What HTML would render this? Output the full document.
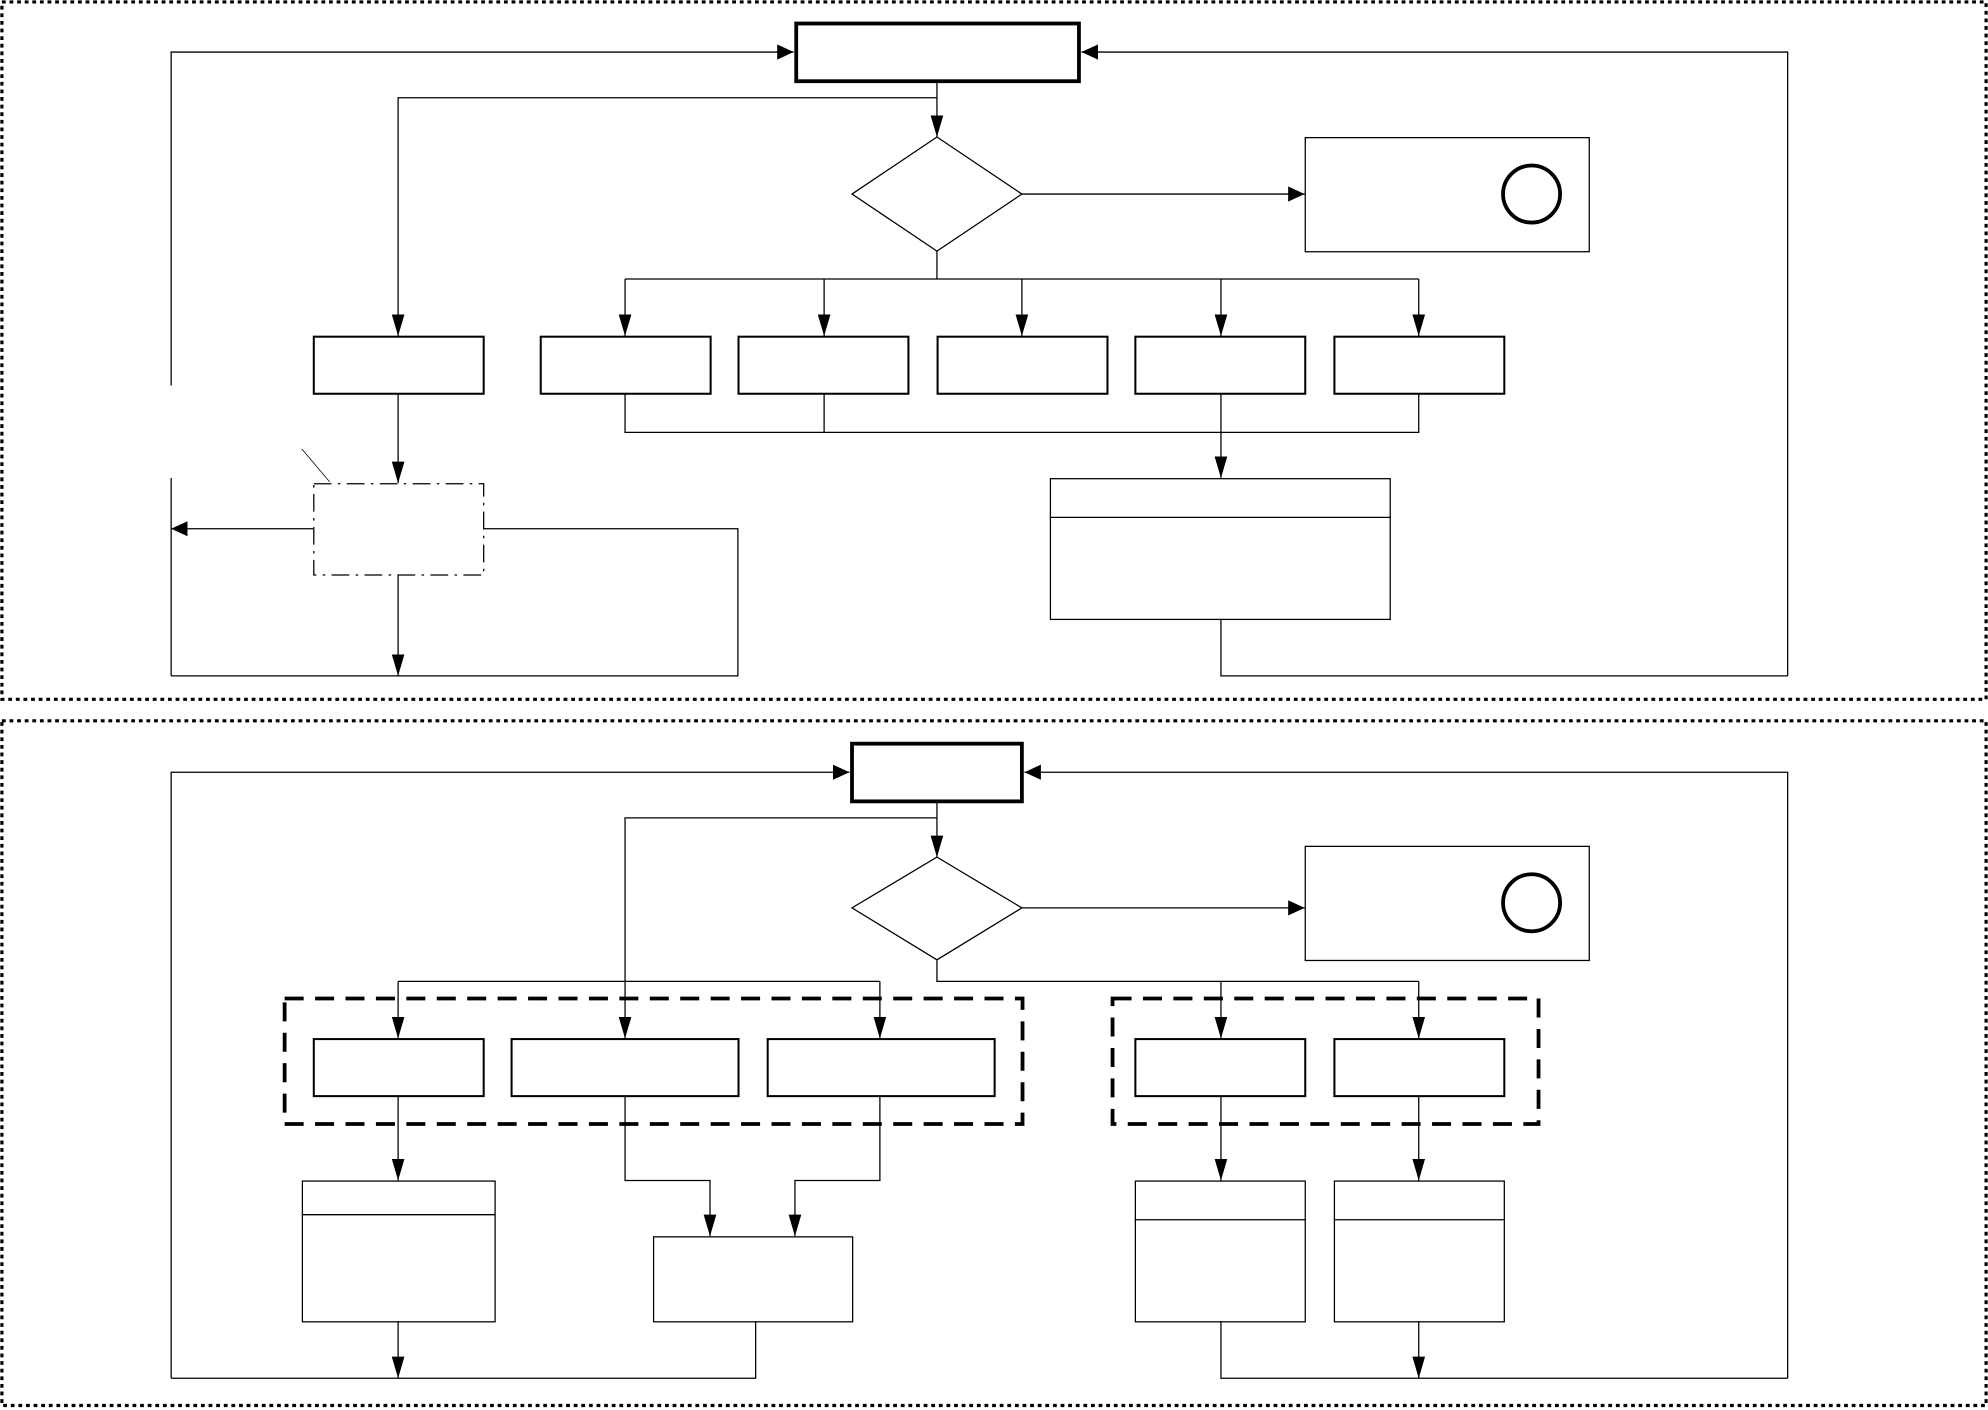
<!DOCTYPE html>
<html><head><meta charset="utf-8"><style>html,body{margin:0;padding:0;background:#fff}svg{display:block}</style></head>
<body>
<svg xmlns="http://www.w3.org/2000/svg" width="1988" height="1410" viewBox="0 0 1568 1112">
<defs>
<marker id="a" markerUnits="userSpaceOnUse" markerWidth="18" markerHeight="10" refX="17" refY="5" orient="auto"><path d="M0,0 L17,5 L0,10 z" fill="#000"/></marker>
<marker id="b" markerUnits="userSpaceOnUse" markerWidth="14" markerHeight="12" refX="13" refY="6" orient="auto"><path d="M0,0 L13,6 L0,12 z" fill="#000"/></marker>
</defs>
<g fill="none" stroke="#000">
<rect x="1.5" y="1.5" width="1565" height="550" stroke-width="2.5" stroke-dasharray="3,3"/>
<rect x="1.5" y="568.5" width="1565" height="540" stroke-width="2.5" stroke-dasharray="3,3"/>
<g stroke-width="1">
<!-- top panel -->
<polyline points="135,304 135,41 626,41" marker-end="url(#b)"/>
<polyline points="1410,533 1410,41 853,41" marker-end="url(#b)"/>
<line x1="739" y1="64" x2="739" y2="108" marker-end="url(#a)"/>
<polyline points="739,77 314,77 314,265" marker-end="url(#a)"/>
<polygon points="739,108 806,153 739,198 672,153"/>
<line x1="806" y1="153" x2="1029" y2="153" marker-end="url(#b)"/>
<rect x="1029.5" y="108.5" width="224" height="90"/>
<line x1="739" y1="198" x2="739" y2="220"/>
<line x1="493" y1="220" x2="1119" y2="220"/>
<line x1="493" y1="220" x2="493" y2="265" marker-end="url(#a)"/>
<line x1="650" y1="220" x2="650" y2="265" marker-end="url(#a)"/>
<line x1="806" y1="220" x2="806" y2="265" marker-end="url(#a)"/>
<line x1="963" y1="220" x2="963" y2="265" marker-end="url(#a)"/>
<line x1="1119" y1="220" x2="1119" y2="265" marker-end="url(#a)"/>
<polyline points="493,310 493,341 1119,341 1119,310"/>
<line x1="650" y1="310" x2="650" y2="341"/>
<line x1="963" y1="310" x2="963" y2="377" marker-end="url(#a)"/>
<rect x="828.5" y="377.5" width="268" height="111"/>
<line x1="828" y1="408" x2="1097" y2="408"/>
<polyline points="963,488 963,533 1410,533"/>
<line x1="314" y1="310" x2="314" y2="381" marker-end="url(#a)"/>
<rect x="247.5" y="381.5" width="134" height="72" stroke-dasharray="14,5,2,5"/>
<line x1="238" y1="354" x2="260" y2="380" stroke-width="0.6"/>
<line x1="247" y1="417" x2="135" y2="417" marker-end="url(#b)"/>
<line x1="135" y1="377" x2="135" y2="533"/>
<polyline points="381,417 582,417 582,533 135,533"/>
<line x1="314" y1="453" x2="314" y2="533" marker-end="url(#a)"/>
<!-- bottom panel -->
<polyline points="135,1087 135,609 670,609" marker-end="url(#b)"/>
<polyline points="1410,1087 1410,609 808,609" marker-end="url(#b)"/>
<line x1="739" y1="632" x2="739" y2="676" marker-end="url(#a)"/>
<polyline points="739,645 493,645 493,819" marker-end="url(#a)"/>
<polygon points="739,676 806,716 739,757 672,716"/>
<line x1="806" y1="716" x2="1029" y2="716" marker-end="url(#b)"/>
<rect x="1029.5" y="667.5" width="224" height="90"/>
<polyline points="739,757 739,774 1119,774"/>
<line x1="963" y1="774" x2="963" y2="819" marker-end="url(#a)"/>
<line x1="1119" y1="774" x2="1119" y2="819" marker-end="url(#a)"/>
<line x1="314" y1="774" x2="694" y2="774"/>
<line x1="314" y1="774" x2="314" y2="819" marker-end="url(#a)"/>
<line x1="694" y1="774" x2="694" y2="819" marker-end="url(#a)"/>
<line x1="314" y1="864" x2="314" y2="931" marker-end="url(#a)"/>
<rect x="238.5" y="931.5" width="152" height="111"/>
<line x1="238" y1="958" x2="390" y2="958"/>
<polyline points="493,864 493,931 560,931 560,975" marker-end="url(#a)"/>
<polyline points="694,864 694,931 627,931 627,975" marker-end="url(#a)"/>
<rect x="515.5" y="975.5" width="157" height="67"/>
<line x1="314" y1="1042" x2="314" y2="1087" marker-end="url(#a)"/>
<polyline points="596,1042 596,1087 135,1087"/>
<line x1="963" y1="864" x2="963" y2="931" marker-end="url(#a)"/>
<line x1="1119" y1="864" x2="1119" y2="931" marker-end="url(#a)"/>
<rect x="895.5" y="931.5" width="134" height="111"/>
<line x1="895" y1="962" x2="1030" y2="962"/>
<rect x="1052.5" y="931.5" width="134" height="111"/>
<line x1="1052" y1="962" x2="1186" y2="962"/>
<polyline points="963,1042 963,1087 1410,1087"/>
<line x1="1119" y1="1042" x2="1119" y2="1087" marker-end="url(#a)"/>
</g>
<g stroke-width="1.6">
<rect x="247.5" y="265.5" width="134" height="45"/>
<rect x="426.5" y="265.5" width="134" height="45"/>
<rect x="582.5" y="265.5" width="134" height="45"/>
<rect x="739.5" y="265.5" width="134" height="45"/>
<rect x="895.5" y="265.5" width="134" height="45"/>
<rect x="1052.5" y="265.5" width="134" height="45"/>
<rect x="247.5" y="819.5" width="134" height="45"/>
<rect x="403.5" y="819.5" width="179" height="45"/>
<rect x="605.5" y="819.5" width="179" height="45"/>
<rect x="895.5" y="819.5" width="134" height="45"/>
<rect x="1052.5" y="819.5" width="134" height="45"/>
</g>
<g stroke-width="3">
<rect x="628" y="18.5" width="223" height="45.5"/>
<rect x="672" y="586.5" width="134" height="45.5"/>
<circle cx="1208" cy="153" r="22.5"/>
<circle cx="1208" cy="712" r="22.5"/>
<rect x="224.5" y="787.5" width="582" height="99" stroke-dasharray="15,9"/>
<rect x="877.5" y="787.5" width="336" height="99" stroke-dasharray="15,9"/>
</g>
</g>
</svg>
</body></html>
